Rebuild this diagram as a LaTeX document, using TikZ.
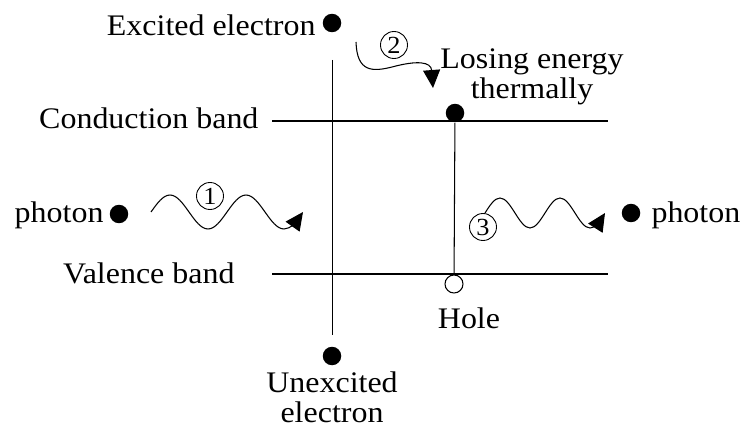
\documentclass[tikz,border=0pt]{standalone}
\usepackage{fontspec}
\setmainfont{Liberation Serif}[FakeStretch=1.07]
\usepackage{tikz}
\usetikzlibrary{arrows.meta}

\begin{document}
\begin{tikzpicture}[x=0.02cm,y=-0.02cm,line width=0.6pt,
    dot/.style={circle,fill=black,inner sep=0pt,minimum size=0.37cm},
    holedot/.style={circle,draw,fill=white,inner sep=0pt,minimum size=0.36cm},
    txt/.style={inner sep=0pt,font=\fontsize{17}{17}\selectfont,align=center},
    stepno/.style={circle,draw,line width=0.5pt,inner sep=0pt,minimum size=0.54cm,font=\fontsize{14}{14}\selectfont},
    wave/.style={line width=0.6pt,-{Triangle[length=3.6mm,width=3.4mm]}}]
                \useasboundingbox (0,0) rectangle (744,429);
                % bands and axis
                \coordinate (cbL) at (272,121);
                \coordinate (cbR) at (608,121);
                \coordinate (vbL) at (272,274);
                \coordinate (vbR) at (608,274);
                \coordinate (axT) at (332,60);
                \coordinate (axB) at (332,335);
                \draw (cbL) -- (cbR);
                \draw (vbL) -- (vbR);
                \draw[line width=0.5pt] (axT) -- (axB);
                % electrons, hole, photons
                \node[dot] (exc) at (332,23) {};
                \node[dot] (cdot) at (455,113) {};
                \node[holedot] (hole) at (454,284) {};
                \node[dot] (unexc) at (332,356) {};
                \node[dot] (phL) at (119,214) {};
                \node[dot] (phR) at (631,213) {};
                \draw (cdot) -- (hole);
                % labels
                \node[txt,anchor=base east] (excT) at (316,36) {Excited electron};
                \node[txt] (lose) at (532,77) {Losing energy\\thermally};
                \node[txt,anchor=base east] (cbT) at (259,129) {Conduction band};
                \node[txt,anchor=base east] (vbT) at (235,283) {Valence band};
                \node[txt,anchor=base east] (phLT) at (104,222) {photon};
                \node[txt,anchor=base west] (phRT) at (651,222) {photon};
                \node[txt,anchor=base] (holeT) at (469,328) {Hole};
                \node[txt] (unexcT) at (332,397) {Unexcited\\electron};
                % steps
                \node[stepno] (s1) at (210,196) {1};
                \node[stepno] (s2) at (394,45) {2};
                \node[stepno] (s3) at (483,227) {3};
                \draw[wave] (151,212) sin (170,195) cos (189,212) sin (208,229) cos (227,212)
                    sin (246,195) cos (265,212) sin (284,229) cos (303,212);
                \draw[wave] (356,42) .. controls (357,72) and (372,72) .. (392,67)
                    .. controls (418,60) and (431,62) .. (433,88);
                \draw[wave] (485,213) sin (500,198) cos (515,213) sin (530,228) cos (545,213)
                    sin (560,198) cos (575,213) sin (590,228) cos (605,213);
\end{tikzpicture}
\end{document}
